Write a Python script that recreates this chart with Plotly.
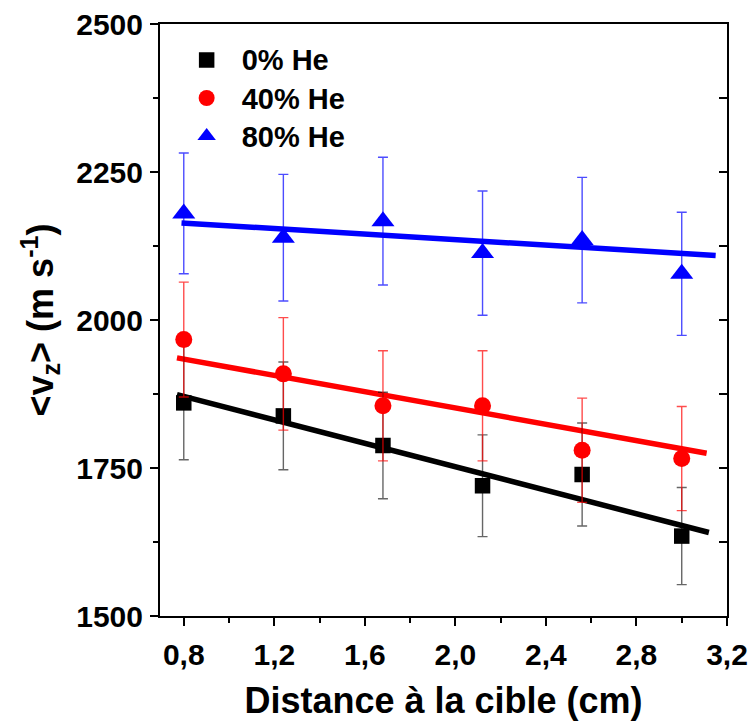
import plotly.graph_objects as go

# ---- data ----
distance = [0.8, 1.24, 1.68, 2.12, 2.56, 3.0]

v_he0 = [1860, 1838, 1788, 1720, 1739, 1635]
err_he0 = [96, 91, 90, 86, 87, 82]

v_he40 = [1967, 1909, 1855, 1855, 1780, 1766]
err_he40 = [97, 95, 93, 93, 88, 88]

v_he80 = [2180, 2139, 2167, 2113, 2135, 2078]
err_he80 = [102, 107, 108, 105, 106, 104]

fit_x_he0 = [0.77, 3.12]
fit_y_he0 = [1874, 1641]
fit_x_he40 = [0.77, 3.11]
fit_y_he40 = [1936, 1775]
fit_x_he80 = [0.79, 3.15]
fit_y_he80 = [2164, 2109]

x_tickvals = [0.8, 1.2, 1.6, 2.0, 2.4, 2.8, 3.2]
x_ticktext = ["0,8", "1,2", "1,6", "2,0", "2,4", "2,8", "3,2"]
y_tickvals = [1500, 1750, 2000, 2250, 2500]
y_ticktext = ["1500", "1750", "2000", "2250", "2500"]

labels = ["0% He", "40% He", "80% He"]

FONT = "Liberation Sans, Arial, sans-serif"

fig = go.Figure()

# fit lines
for fx, fy, col in [(fit_x_he0, fit_y_he0, "#000000"),
                    (fit_x_he40, fit_y_he40, "#ff0000"),
                    (fit_x_he80, fit_y_he80, "#0000ff")]:
    fig.add_trace(go.Scatter(x=fx, y=fy, mode="lines",
                             line=dict(color=col, width=5.5),
                             showlegend=False, hoverinfo="skip"))

# data points with error bars
series = [
    (v_he0, err_he0, labels[0], "square", 15.5, "#000000", "rgba(0,0,0,0.6)"),
    (v_he40, err_he40, labels[1], "circle", 17, "#ff0000", "rgba(255,0,0,0.7)"),
    (v_he80, err_he80, labels[2], "triangle-up", 20, "#0000ff", "rgba(0,0,255,0.7)"),
]
for vals, errs, nm, sym, sz, col, ecol in series:
    fig.add_trace(go.Scatter(
        x=distance, y=vals, mode="markers",
        name="\u00a0\u00a0<span style='font-size:29px'>" + nm + "</span>",
        marker=dict(symbol=sym, size=sz, color=col, line=dict(width=0)),
        error_y=dict(type="data", array=errs, visible=True,
                     color=ecol, thickness=1.4, width=5),
    ))

# dummy trace for the right-side (inward ticks) axis
fig.add_trace(go.Scatter(x=[None], y=[None], yaxis="y2",
                         showlegend=False, hoverinfo="skip"))

tickfont = dict(family=FONT, size=30, color="black", weight="bold")
titlefont = dict(family=FONT, size=36, color="black", weight="bold")

fig.update_layout(
    template="none",
    width=750, height=722,
    margin=dict(l=160, r=23, t=24, b=106, autoexpand=False),
    paper_bgcolor="white", plot_bgcolor="white",
    showlegend=True,
    legend=dict(x=0.047, y=0.980, xanchor="left", yanchor="top",
                bgcolor="rgba(0,0,0,0)", borderwidth=0,
                font=dict(family=FONT, size=27, color="black", weight="bold"),
                tracegroupgap=0),
    xaxis=dict(
        range=[0.695, 3.2], automargin=False,
        tickvals=x_tickvals, ticktext=x_ticktext,
        ticks="outside", ticklen=8, tickwidth=2, tickcolor="black",
        minor=dict(tick0=0.8, dtick=0.2, ticks="outside", ticklen=5,
                   tickwidth=2, tickcolor="black", showgrid=False),
        showline=True, linewidth=2, linecolor="black", mirror=True,
        showgrid=False, zeroline=False,
        tickfont=tickfont, ticklabelstandoff=3,
        title=dict(text="Distance à la cible (cm)", font=titlefont, standoff=18),
    ),
    yaxis=dict(
        range=[1500, 2500], automargin=False,
        tickvals=y_tickvals, ticktext=y_ticktext,
        ticks="outside", ticklen=8, tickwidth=2, tickcolor="black",
        minor=dict(tick0=1500, dtick=125, ticks="outside", ticklen=5,
                   tickwidth=2, tickcolor="black", showgrid=False),
        showline=True, linewidth=2, linecolor="black", mirror=True,
        showgrid=False, zeroline=False,
        tickfont=tickfont, ticklabelstandoff=1,
        title=dict(text="&lt;v<sub>z</sub>&gt; (m s<sup>-1</sup>)",
                   font=titlefont, standoff=12),
    ),
    yaxis2=dict(
        range=[1500, 2500], overlaying="y", side="right", automargin=False,
        tickvals=y_tickvals,
        ticks="inside", ticklen=8, tickwidth=2, tickcolor="black",
        minor=dict(tick0=1500, dtick=125, ticks="inside", ticklen=8,
                   tickwidth=2, tickcolor="black", showgrid=False),
        showticklabels=False, showgrid=False, showline=False, zeroline=False,
    ),
)

fig.write_html("out.html", config={"displayModeBar": False},
               post_script="document.body.style.margin='0px';")
